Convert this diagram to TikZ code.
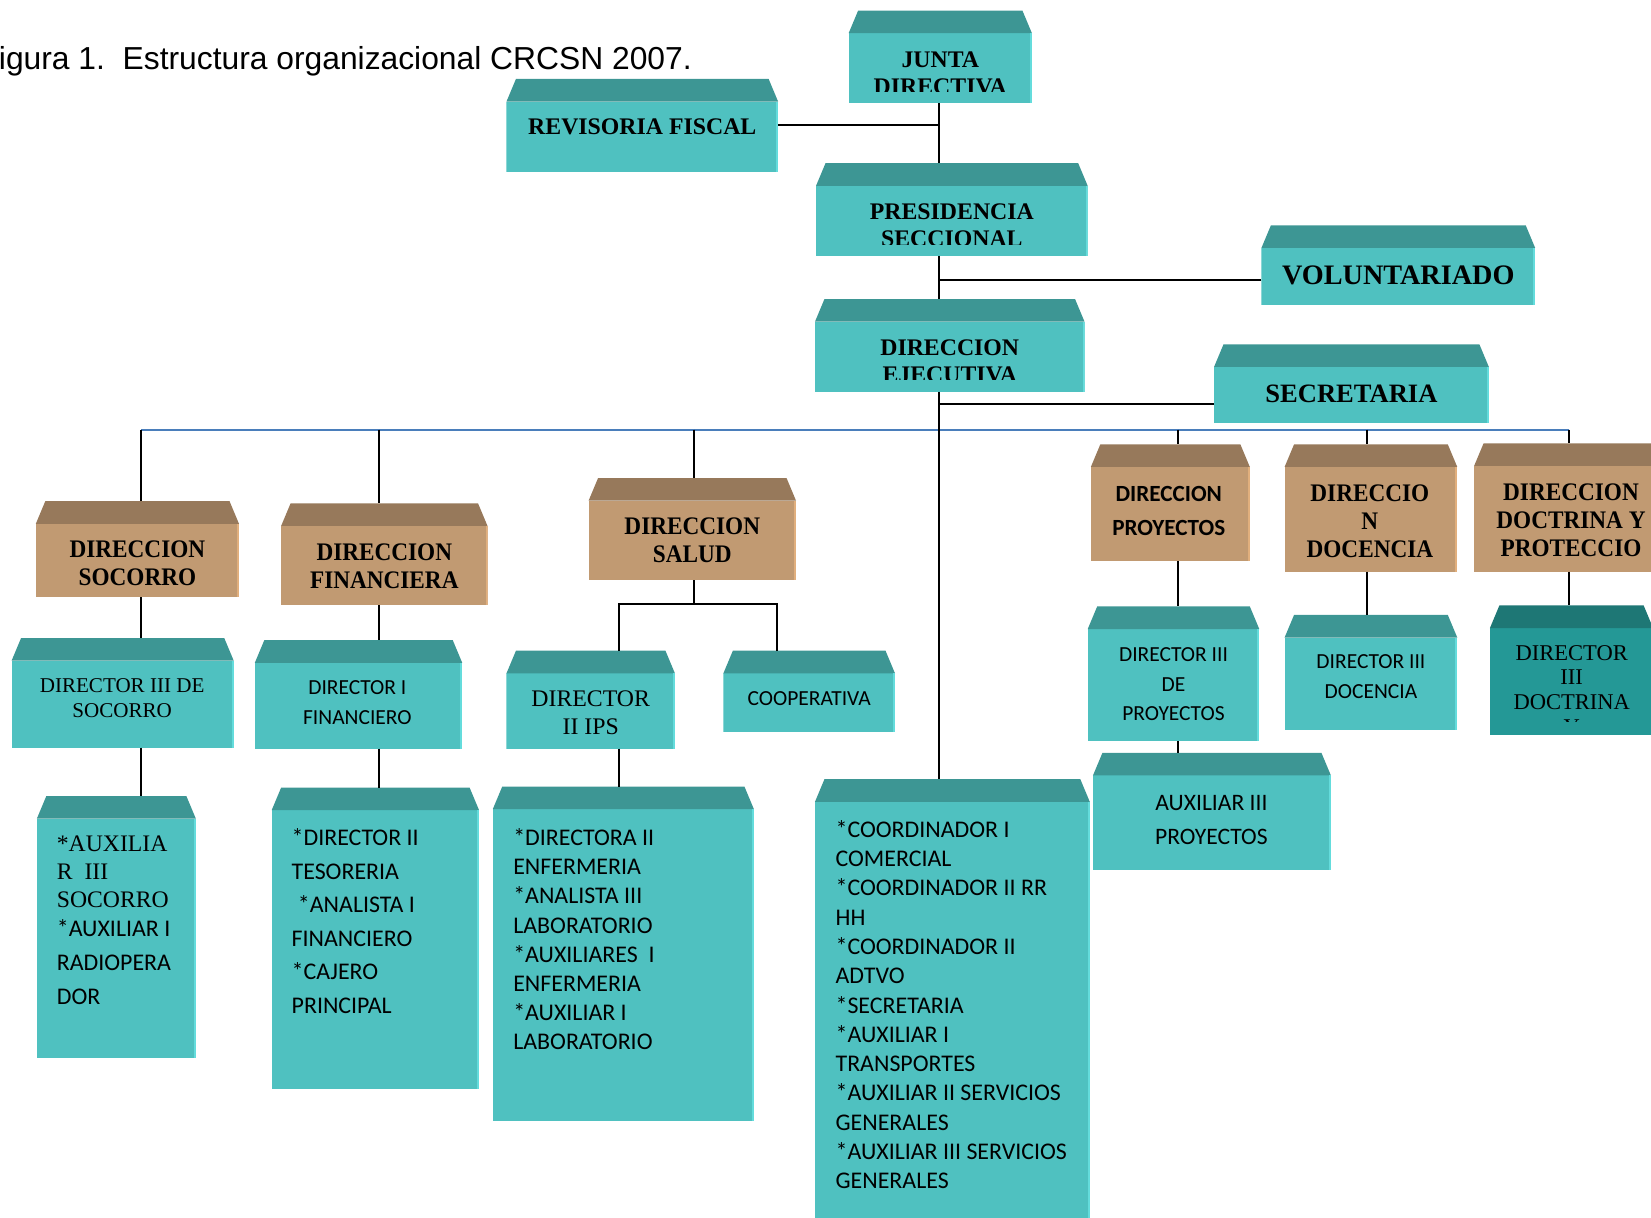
\documentclass[tikz,border=0pt]{standalone}
\usepackage{fontspec}
\setmainfont{Liberation Serif}
\newfontfamily\hdfont{Liberation Serif}
\newfontfamily\hdbfont{Liberation Serif}[FakeStretch=0.92]
\newfontfamily\calfont{Carlito}
\newfontfamily\ttlfont{Liberation Sans}
\definecolor{tmain}{RGB}{79,193,192}
\definecolor{tbevel}{RGB}{61,150,148}
\definecolor{tedge}{RGB}{100,220,220}
\definecolor{bmain}{RGB}{193,154,114}
\definecolor{bbevel}{RGB}{151,121,91}
\definecolor{bedge}{RGB}{225,175,125}
\definecolor{dmain}{RGB}{36,152,150}
\definecolor{dbevel}{RGB}{30,119,117}
\definecolor{dedge}{RGB}{50,175,172}
\definecolor{busblue}{RGB}{74,126,187}
\newcommand\boxfill[3]{%
  \fill[#1] ([yshift=-10.75pt]path picture bounding box.north west) rectangle (path picture bounding box.south east);
  \fill[#2] ([yshift=-10.75pt]path picture bounding box.north west) -- ([xshift=4.5pt]path picture bounding box.north west) -- ([xshift=-4.5pt]path picture bounding box.north east) -- ([yshift=-10.75pt]path picture bounding box.north east) -- cycle;
  \fill[#3] ([xshift=-0.9pt,yshift=-10.75pt]path picture bounding box.north east) rectangle (path picture bounding box.south east);
}
\newcommand\orgbox[6]{%
  \node[#2, minimum width={0.5pt*(#5-#3)}, minimum height={0.5pt*(#6-#4)}] (#1) at ({(#3+#5)/2},{(#4+#6)/2}) {};}
\tikzset{
  orgshape/.style={rectangle, inner sep=0pt, outer sep=0pt},
  tealbox/.style={orgshape, path picture={\boxfill{tmain}{tbevel}{tedge}}},
  brownbox/.style={orgshape, path picture={\boxfill{bmain}{bbevel}{bedge}}},
  darkbox/.style={orgshape, path picture={\boxfill{dmain}{dbevel}{dedge}}},
  conn/.style={line width=0.95pt, black},
  busline/.style={line width=0.95pt, busblue},
  txt/.style={inner sep=0pt, outer sep=0pt, text=black},
  hdA/.style={txt, align=center, font=\hdfont\bfseries\fontsize{11.3}{12.75}\selectfont},
  hdB/.style={txt, align=center, font=\hdbfont\bfseries\fontsize{12}{13.3}\selectfont},
  calB/.style={txt, align=center, font=\calfont\bfseries\fontsize{11}{15.7}\selectfont},
  cen/.style={txt, align=center},
  lst/.style={txt, align=left, anchor=west},
}
\begin{document}
\begin{tikzpicture}[x=0.5pt,y=-0.5pt]
\useasboundingbox (0,0) rectangle (1568,1156);
\clip (0,0) rectangle (1568,1156);

% title
\node[txt, anchor=base west, font=\ttlfont\fontsize{15.1}{18}\selectfont] (title) at (-1,66) {igura 1.\ \ Estructura organizacional CRCSN 2007.};

% boxes
\orgbox{junta}{tealbox}{806}{10}{980}{98}
\orgbox{revis}{tealbox}{481}{75}{739}{163}
\orgbox{pres}{tealbox}{775}{155}{1033}{243}
\orgbox{volunt}{tealbox}{1198}{214}{1458}{290}
\orgbox{ejec}{tealbox}{774}{284}{1030}{372}
\orgbox{secr}{tealbox}{1153}{327}{1414}{402}
\orgbox{soc}{brownbox}{34}{476}{227}{567}
\orgbox{fin}{brownbox}{267}{478}{463}{575}
\orgbox{sal}{brownbox}{559}{454}{756}{551}
\orgbox{proj}{brownbox}{1036}{422}{1187}{533}
\orgbox{doc}{brownbox}{1220}{422}{1384}{543}
\orgbox{doct}{brownbox}{1400}{421}{1584}{543}
\orgbox{dirsoc}{tealbox}{11}{606}{222}{710}
\orgbox{dirfin}{tealbox}{242}{608}{439}{711}
\orgbox{ips}{tealbox}{481}{618}{641}{711}
\orgbox{coop}{tealbox}{687}{618}{850}{695}
\orgbox{dirproj}{tealbox}{1033}{576}{1196}{704}
\orgbox{dirdoc}{tealbox}{1220}{584}{1384}{693}
\orgbox{dirdoct}{darkbox}{1415}{575}{1570}{698}
\orgbox{auxsoc}{tealbox}{35}{756}{186}{1005}
\orgbox{listfin}{tealbox}{258}{748}{455}{1034}
\orgbox{listsal}{tealbox}{468}{747}{716}{1065}
\orgbox{coord}{tealbox}{774}{740}{1035}{1180}
\orgbox{auxproj}{tealbox}{1038}{715}{1264}{826}

% connector coordinates
\coordinate (trunk) at (892,118);
\coordinate (b1) at (134,408);
\coordinate (b2) at (360,408);
\coordinate (b3) at (659,408);
\coordinate (b4) at (1119,408);
\coordinate (b5) at (1298,408);
\coordinate (b6) at (1490,408);
\coordinate (sj) at (659,574);
\coordinate (sl) at (588,574);
\coordinate (sr) at (738,574);
\coordinate (vj) at ([yshift=-7pt]volunt.west);
\coordinate (sc) at ([yshift=-9.75pt]secr.west);

% connectors
\draw[busline] (b1) -- (b6);
\draw[conn] (revis.east) -- (revis.east -| trunk);
\draw[conn] (trunk |- junta.south) -- (trunk |- pres.north);
\draw[conn] (trunk |- pres.south) -- (trunk |- ejec.north);
\draw[conn] (vj) -- (vj -| trunk);
\draw[conn] (sc) -- (sc -| trunk);
\draw[conn] (trunk |- ejec.south) -- (trunk |- coord.north);
\draw[conn] (b1) -- (b1 |- soc.north);
\draw[conn] (b2) -- (b2 |- fin.north);
\draw[conn] (b3) -- (b3 |- sal.north);
\draw[conn] (b4) -- (b4 |- proj.north);
\draw[conn] (b5) -- (b5 |- doc.north);
\draw[conn] (b6) -- (b6 |- doct.north);
\draw[conn] (b1 |- soc.south) -- (b1 |- dirsoc.north);
\draw[conn] (b1 |- dirsoc.south) -- (b1 |- auxsoc.north);
\draw[conn] (b2 |- fin.south) -- (b2 |- dirfin.north);
\draw[conn] (b2 |- dirfin.south) -- (b2 |- listfin.north);
\draw[conn] (b3 |- sal.south) -- (sj);
\draw[conn] (sl |- ips.north) -- (sl) -- (sr) -- (sr |- coop.north);
\draw[conn] (sl |- ips.south) -- (sl |- listsal.north);
\draw[conn] (b4 |- proj.south) -- (b4 |- dirproj.north);
\draw[conn] (b4 |- dirproj.south) -- (b4 |- auxproj.north);
\draw[conn] (b5 |- doc.south) -- (b5 |- dirdoc.north);
\draw[conn] (b6 |- doct.south) -- (b6 |- dirdoct.north);

% texts
\begin{scope}
\clip ([yshift=-10.75pt]junta.north west) rectangle ([yshift=5.6pt]junta.south east);
\node[hdA] (juntaT) at (893,69.3) {JUNTA\\DIRECTIVA};
\end{scope}
\begin{scope}
\clip ([yshift=-10.75pt]pres.north west) rectangle ([yshift=5.2pt]pres.south east);
\node[hdA] (presT) at (904,214) {PRESIDENCIA\\SECCIONAL};
\end{scope}
\begin{scope}
\clip ([yshift=-10.75pt]ejec.north west) rectangle ([yshift=5.6pt]ejec.south east);
\node[hdA] (ejecT) at (902,343) {DIRECCION\\EJECUTIVA};
\end{scope}
\node[hdA] (revisT) at (610,120.8) {REVISORIA FISCAL};
\node[hdA, font=\hdfont\bfseries\fontsize{13.4}{15}\selectfont] (voluntT) at (1328,262) {VOLUNTARIADO};
\node[hdA, font=\hdfont\bfseries\fontsize{12.6}{15}\selectfont] (secrT) at (1283.5,374.4) {SECRETARIA};

\node[hdB] (socT) at (130.5,535.2) {DIRECCION\\SOCORRO};
\node[hdB] (finT) at (365,537.5) {DIRECCION\\FINANCIERA};
\node[hdB] (salT) at (657.5,513.5) {DIRECCION\\SALUD};
\node[calB] (projT) at (1110,485.3) {DIRECCION\\PROYECTOS};
\node[hdB] (docT) at (1301,495.4) {DIRECCIO\\N\\DOCENCIA};
\node[hdB] (doctT) at (1492,493.9) {DIRECCION\\DOCTRINA Y\\PROTECCIO};

\node[cen, font=\rmfamily\fontsize{10}{11.9}\selectfont] (dirsocT) at (116,662.6) {DIRECTOR III DE\\SOCORRO};
\node[cen, font=\calfont\fontsize{10.2}{14}\selectfont] (dirfinT) at (339.4,667.3) {DIRECTOR I\\FINANCIERO};
\node[cen, font=\rmfamily\fontsize{11.3}{13}\selectfont] (ipsT) at (561,677) {DIRECTOR\\II IPS};
\node[cen, font=\calfont\fontsize{10.2}{14}\selectfont] (coopT) at (768.5,663.7) {COOPERATIVA};
\node[cen, font=\calfont\fontsize{10.2}{14.2}\selectfont] (dirprojT) at (1114.5,649.75) {DIRECTOR III\\DE\\PROYECTOS};
\node[cen, font=\calfont\fontsize{10.2}{14.15}\selectfont] (dirdocT) at (1302,642.65) {DIRECTOR III\\DOCENCIA};
\begin{scope}
\clip ([yshift=-10.75pt]dirdoct.north west) rectangle ([yshift=6.5pt]dirdoct.south east);
\node[cen, font=\rmfamily\fontsize{10.7}{11.75}\selectfont] (dirdoctT) at (1492.7,655.2) {DIRECTOR\\III\\DOCTRINA\\Y};
\end{scope}
\node[cen, font=\calfont\fontsize{11.2}{15.85}\selectfont] (auxprojT) at (1150.5,778.65) {AUXILIAR III\\PROYECTOS};

\node[lst, font=\calfont\fontsize{11.35}{13.35}\selectfont] (auxsocT) at (54,874) {{\rmfamily\fontsize{11.25}{13.35}\selectfont *AUXILIA}\\{\rmfamily\fontsize{11.25}{13.35}\selectfont R\ \ III}\\{\rmfamily\fontsize{11.25}{13.35}\selectfont SOCORRO}\\{}*AUXILIAR I\\[2.85pt]RADIOPERA\\[2.85pt]DOR};
\node[lst, font=\calfont\fontsize{11.35}{15.92}\selectfont] (listfinT) at (277,874.8) {*DIRECTOR II\\TESORERIA\\\hspace*{3pt}*ANALISTA I\\FINANCIERO\\{}*CAJERO\\PRINCIPAL};
\node[lst, font=\calfont\fontsize{11.35}{13.85}\selectfont] (listsalT) at (487.5,892.1) {*DIRECTORA II\\ENFERMERIA\\{}*ANALISTA III\\LABORATORIO\\{}*AUXILIARES\ \ I\\ENFERMERIA\\{}*AUXILIAR I\\LABORATORIO};
\node[lst, font=\calfont\fontsize{11.35}{13.92}\selectfont] (coordT) at (793.6,954.1) {*COORDINADOR I\\COMERCIAL\\{}*COORDINADOR II RR\\HH\\{}*COORDINADOR II\\ADTVO\\{}*SECRETARIA\\{}*AUXILIAR I\\TRANSPORTES\\{}*AUXILIAR II SERVICIOS\\GENERALES\\{}*AUXILIAR III SERVICIOS\\GENERALES};
\end{tikzpicture}
\end{document}
